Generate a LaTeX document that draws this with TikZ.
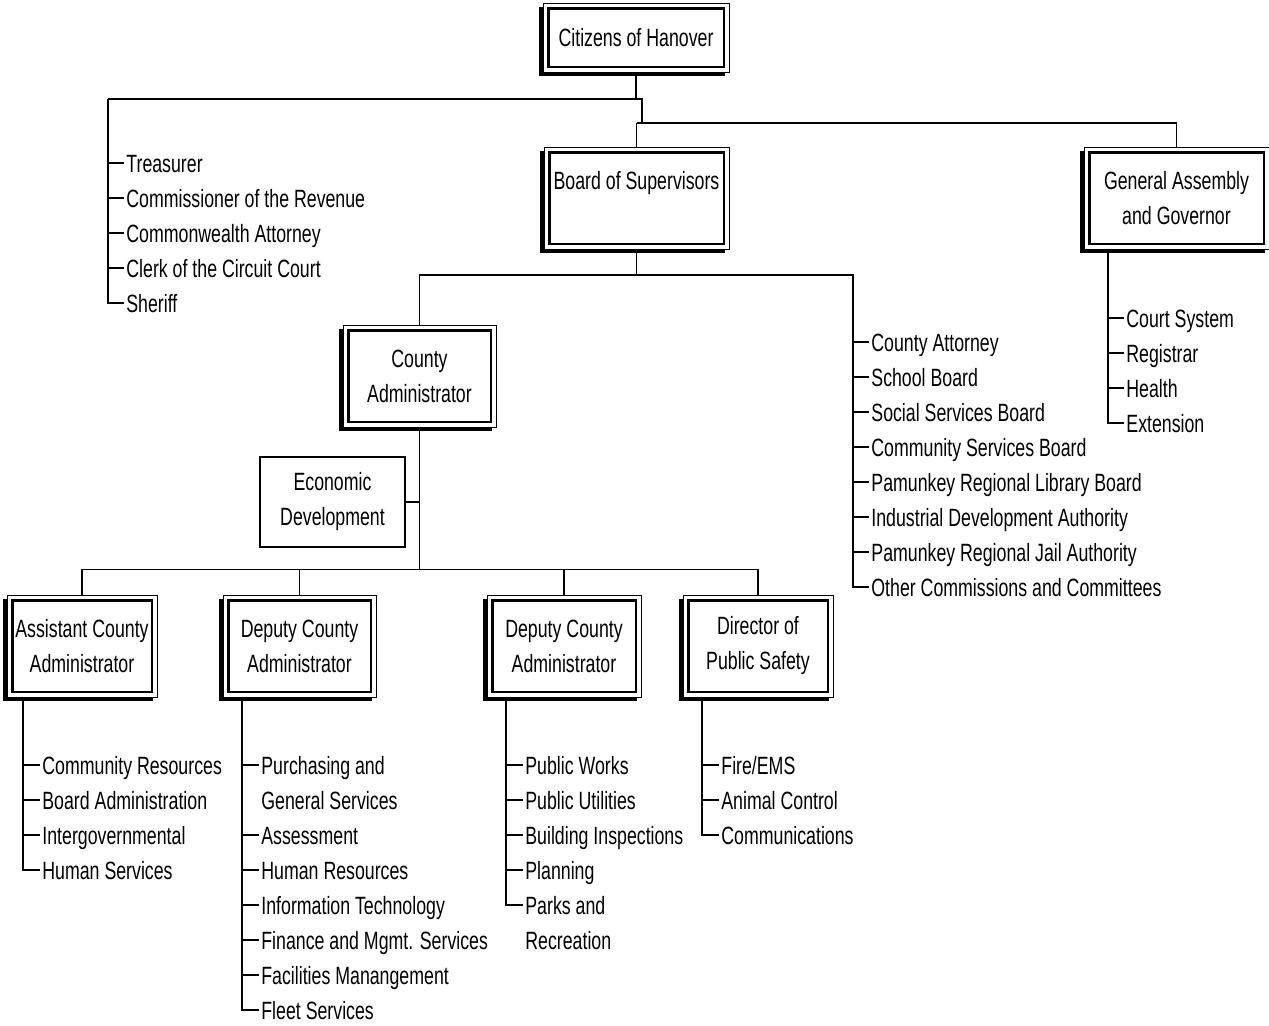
\documentclass[tikz,border=0pt]{standalone}
\usepackage{fontspec}
\setmainfont{Liberation Sans}[FakeStretch=0.71]
\usetikzlibrary{shadows}

\tikzset{
  orgbox/.style={rectangle, draw, line width=0.5pt, fill=white, align=center, inner sep=0pt,
    drop shadow={shadow xshift=-2pt, shadow yshift=-2pt, fill=black, opacity=1},
    path picture={\draw[line width=1.3pt]
      ([xshift=2.6pt,yshift=-2.6pt]path picture bounding box.north west) rectangle
      ([xshift=-2.6pt,yshift=2.6pt]path picture bounding box.south east);}},
  plainbox/.style={rectangle, draw, line width=0.6pt, fill=white, align=center, inner sep=0pt},
  item/.style={anchor=west, inner xsep=1pt, inner ysep=0pt, text height=9pt, text depth=0pt},
  link/.style={line width=0.8pt},
  heavylink/.style={line width=1pt}
}

\begin{document}
\begin{tikzpicture}[x=0.5pt, y=-0.5pt, font=\fontsize{12.5}{17.5}\selectfont]
  \useasboundingbox (0,0) rectangle (1269,1025);

  % boxes
  \node[orgbox, minimum width=93pt, minimum height=34.5pt] (cit) at (636,37.5) {Citizens of Hanover};
  \node[orgbox, minimum width=92.5pt, minimum height=51pt] (bos) at (636.5,198) {Board of Supervisors\\~};
  \node[orgbox, minimum width=92.5pt, minimum height=51pt] (ga) at (1176.5,198) {General Assembly\\and Governor};
  \node[orgbox, minimum width=76.5pt, minimum height=51pt] (ca) at (419.5,376) {County\\Administrator};
  \node[plainbox, minimum width=72.5pt, minimum height=45pt] (ed) at (332.5,502) {Economic\\Development};
  \node[orgbox, minimum width=75pt, minimum height=51pt] (aca) at (82,646) {Assistant County\\Administrator};
  \node[orgbox, minimum width=76.5pt, minimum height=51pt] (dca1) at (299.5,646) {Deputy County\\Administrator};
  \node[orgbox, minimum width=77pt, minimum height=51pt] (dca2) at (564,646) {Deputy County\\Administrator};
  \node[orgbox, minimum width=75pt, minimum height=51pt] (dps) at (758,646) {Director of\\Public Safety};

  % top level
  \coordinate (ltrunk) at (108,99);
  \coordinate (rj) at (642,99);
  \coordinate (gj) at (636.5,123);
  \draw[link] (cit.south) -- (cit.south |- rj);
  \draw[link] (ltrunk) -- (rj) -- (rj |- gj);
  \draw[link] (bos.north) -- (gj);
  \draw[link] (ga.north) -- (ga.north |- gj);
  \draw[heavylink] (gj) -- (ga.north |- gj);

  \foreach \t [count=\i] in {Treasurer, Commissioner of the Revenue, Commonwealth Attorney,
      Clerk of the Circuit Court, Sheriff}
    \node[item] (tr\i) at (124,128+35*\i) {\t};
  \draw[link] (ltrunk) |- (tr5.west);
  \foreach \i in {1,...,4}
    \draw[link] (tr\i.west -| ltrunk) -- (tr\i.west);

  \foreach \t [count=\i] in {Court System, Registrar, Health, Extension}
    \node[item] (gs\i) at (1124,283+35*\i) {\t};
  \coordinate (gat) at (1108,249);
  \draw[link] (gat) |- (gs4.west);
  \foreach \i in {1,...,3}
    \draw[link] (gs\i.west -| gat) -- (gs\i.west);

  % board level
  \coordinate (mtrunk) at (853,275);
  \draw[link] (bos.south) -- (bos.south |- mtrunk);
  \foreach \t [count=\i] in {County Attorney, School Board, Social Services Board,
      Community Services Board, Pamunkey Regional Library Board,
      Industrial Development Authority, Pamunkey Regional Jail Authority,
      Other Commissions and Committees}
    \node[item] (bd\i) at (869,307+35*\i) {\t};
  \draw[heavylink] (ca.north |- mtrunk) -- (mtrunk);
  \draw[link] (ca.north) |- (mtrunk) |- (bd8.west);
  \foreach \i in {1,...,7}
    \draw[link] (bd\i.west -| mtrunk) -- (bd\i.west);

  % administrator level
  \coordinate (cj) at (420,570);
  \draw[link] (ca.south) -- (ca.south |- cj);
  \draw[line width=1.2pt] (ed.east) -- (ed.east -| ca.south);
  \draw[link] (aca.north) -- ++(0,-25) -| (dps.north);
  \draw[link] (dca1.north) -- ++(0,-25);
  \draw[link] (dca2.north) -- ++(0,-25);

  % departments
  \foreach \t [count=\i] in {Community Resources, Board Administration, Intergovernmental, Human Services}
    \node[item] (ac\i) at (40,730+35*\i) {\t};
  \coordinate (acat) at (23,697);
  \draw[link] (acat) |- (ac4.west);
  \foreach \i in {1,...,3}
    \draw[link] (ac\i.west -| acat) -- (ac\i.west);

  \node[item] (dv0) at (259,765) {Purchasing and};
  \node[item] (dvgs) at (259,800) {General Services};
  \foreach \t [count=\i] in {Assessment, Human Resources, Information Technology,
      Finance and Mgmt. Services, Facilities Manangement, Fleet Services}
    \node[item] (dv\i) at (259,800+35*\i) {\t};
  \coordinate (dvt) at (242,697);
  \draw[link] (dvt) |- (dv6.west);
  \foreach \i in {0,...,5}
    \draw[link] (dv\i.west -| dvt) -- (dv\i.west);

  \foreach \t [count=\i] in {Public Works, Public Utilities, Building Inspections, Planning, Parks and}
    \node[item] (pw\i) at (523,730+35*\i) {\t};
  \node[item] (pwrc) at (523,940) {Recreation};
  \coordinate (pwt) at (506,697);
  \draw[link] (pwt) |- (pw5.west);
  \foreach \i in {1,...,4}
    \draw[link] (pw\i.west -| pwt) -- (pw\i.west);

  \foreach \t [count=\i] in {Fire/EMS, Animal Control, Communications}
    \node[item] (ps\i) at (719,730+35*\i) {\t};
  \coordinate (pst) at (702,697);
  \draw[link] (pst) |- (ps3.west);
  \foreach \i in {1,2}
    \draw[link] (ps\i.west -| pst) -- (ps\i.west);
\end{tikzpicture}
\end{document}
